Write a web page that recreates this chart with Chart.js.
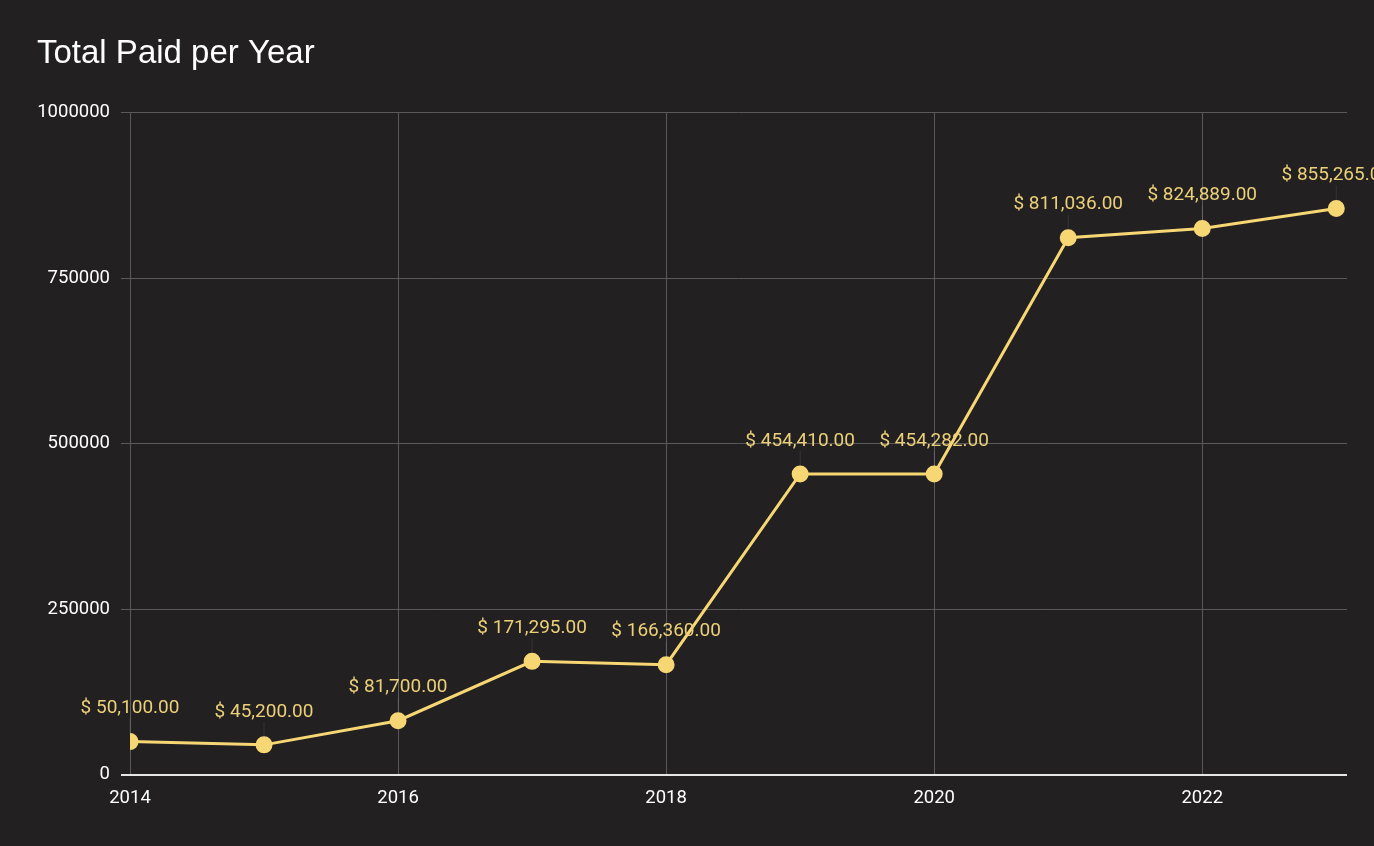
<!DOCTYPE html>
<html>
<head>
<meta charset="utf-8">
<script src="https://cdn.jsdelivr.net/npm/chart.js@4.4.1/dist/chart.umd.min.js"></script>
<style>
  html, body { margin: 0; padding: 0; background: #222021; }
  #wrap { width: 1374px; height: 846px; }
</style>
</head>
<body>
<div id="wrap"><canvas id="paidChart"></canvas></div>
<script>
// Total paid per year
var years = [2014, 2015, 2016, 2017, 2018, 2019, 2020, 2021, 2022, 2023];
var totals = [50100, 45200, 81700, 171295, 166360, 454410, 454282, 811036, 824889, 855265];
var xTicks = [2014, 2016, 2018, 2020, 2022];
var yTicks = [0, 250000, 500000, 750000, 1000000];

var lineColor = '#f7d774';
var labelColor = '#ecd078';

function money(v) {
    return '$ ' + v.toLocaleString('en-US', { minimumFractionDigits: 2, maximumFractionDigits: 2 });
}

// draws "$ 50,100.00" above each point, with a faint leader line
var pointLabels = {
    id: 'pointLabels',
    afterDatasetsDraw: function(chart) {
        var ctx = chart.ctx;
        var meta = chart.getDatasetMeta(0);
        ctx.save();
        meta.data.forEach(function(pt, i) {
            ctx.strokeStyle = 'rgba(255,255,255,0.09)';
            ctx.lineWidth = 1;
            ctx.beginPath();
            ctx.moveTo(pt.x, pt.y - 23);
            ctx.lineTo(pt.x, pt.y - 8);
            ctx.stroke();
            ctx.fillStyle = labelColor;
            ctx.font = '19px Roboto';
            ctx.textAlign = 'center';
            ctx.textBaseline = 'middle';
            ctx.fillText(money(totals[i]), pt.x, pt.y - 33);
        });
        ctx.restore();
    }
};

var ctx = document.getElementById('paidChart').getContext('2d');
var paidChart = new Chart(ctx, {
    type: 'line',
    data: {
        datasets: [{
            label: 'Total Paid',
            data: years.map(function(y, i) { return { x: y, y: totals[i] }; }),
            borderColor: lineColor,
            backgroundColor: lineColor,
            borderWidth: 3,
            pointRadius: 7,
            pointHoverRadius: 7,
            tension: 0
        }]
    },
    options: {
        responsive: true,
        maintainAspectRatio: false,
        animation: false,
        layout: { padding: { left: 37, right: 27, top: 34, bottom: 25 } },
        plugins: {
            legend: { display: false },
            tooltip: { enabled: false },
            title: {
                display: true,
                text: 'Total Paid per Year',
                align: 'start',
                color: '#ffffff',
                font: { family: 'Liberation Sans', size: 33, weight: 'normal' },
                padding: { top: 0, bottom: 39 }
            }
        },
        scales: {
            x: {
                type: 'linear',
                min: 2014,
                max: 2023.08,
                afterBuildTicks: function(scale) {
                    scale.ticks = xTicks.map(function(v) { return { value: v }; });
                },
                grid: { color: '#5a5a5a', lineWidth: 1, drawTicks: false },
                border: { display: false },
                ticks: {
                    color: '#ffffff',
                    font: { family: 'Roboto', size: 18.5 },
                    padding: 12,
                    maxRotation: 0,
                    callback: function(v) { return String(v); }
                }
            },
            y: {
                min: 0,
                max: 1000000,
                afterBuildTicks: function(scale) {
                    scale.ticks = yTicks.map(function(v) { return { value: v }; });
                },
                afterFit: function(scale) {
                    scale.width = 93;
                },
                grid: {
                    color: function(c) { return c.tick && c.tick.value === 0 ? '#e6e6e6' : '#5a5a5a'; },
                    lineWidth: function(c) { return c.tick && c.tick.value === 0 ? 2 : 1; },
                    tickLength: 9
                },
                border: { display: false },
                ticks: {
                    color: '#ffffff',
                    font: { family: 'Roboto', size: 18.5 },
                    padding: 11,
                    callback: function(v) { return String(v); }
                }
            }
        }
    },
    plugins: [pointLabels]
});
</script>
</body>
</html>
